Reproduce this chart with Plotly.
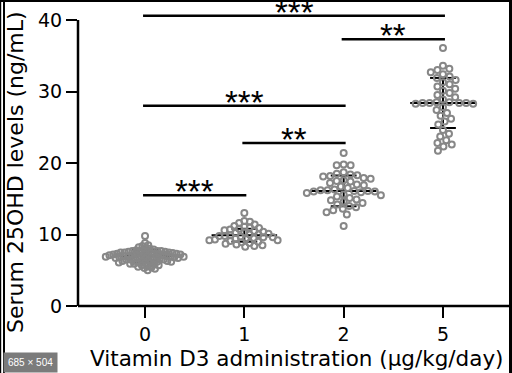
import numpy as np
import plotly.graph_objects as go

# ---------------- data ----------------
categories = ["0", "1", "2", "5"]

dose0 = [9.8, 8.8, 8.5, 8.4, 8.2, 8.1, 8.0, 7.9, 7.8, 7.8, 7.7, 7.7, 7.7, 7.6, 7.6, 7.6,
         7.5, 7.5, 7.5, 7.4, 7.4, 7.4, 7.3, 7.3, 7.3, 7.3, 7.2, 7.2, 7.2, 7.2, 7.1, 7.1, 7.1,
         7.0, 7.0, 7.0, 7.0, 6.9, 6.9, 6.9, 6.9, 6.8, 6.8, 6.8, 6.8, 6.7, 6.7, 6.7, 6.6, 6.6,
         6.6, 6.5, 6.5, 6.5, 6.4, 6.4, 6.3, 6.3, 6.3, 6.2, 6.2, 6.1, 6.1, 6.0, 6.0, 5.9,
         5.9, 5.8, 5.7, 5.7, 5.6, 5.5, 5.4, 5.3, 5.2, 5.0]
dose1 = [13.0, 11.9, 11.8, 11.6, 11.4, 11.2, 11.1, 11.0, 10.9, 10.8, 10.7, 10.6,
         10.5, 10.4, 10.3, 10.2, 10.1, 10.0, 10.0, 9.9, 9.8, 9.8, 9.7, 9.6, 9.6,
         9.5, 9.4, 9.4, 9.3, 9.2, 9.2, 9.1, 9.0, 8.9, 8.8, 8.7, 8.6, 8.5, 8.4, 8.3]
dose2 = [21.4, 19.8, 19.7, 19.7, 18.7, 18.5, 18.4, 18.3, 18.2, 18.1, 17.9, 17.8, 17.6,
         17.5, 17.4, 17.2, 17.0, 16.9, 16.7, 16.5, 16.3, 16.2, 16.2, 16.1, 16.1, 16.0,
         16.0, 15.9, 15.8, 15.6, 15.5, 15.3, 15.1, 14.9, 14.8, 14.6, 14.4, 14.2, 14.0,
         13.8, 13.6, 13.4, 13.1, 12.8, 11.2]
dose5 = [36.1, 33.6, 33.2, 33.0, 32.7, 32.4, 32.1, 31.9, 31.6, 31.3, 31.0, 30.7,
         30.4, 30.1, 29.8, 29.5, 29.2, 28.9, 28.5, 28.5, 28.4, 28.4, 28.4, 28.4,
         28.3, 28.3, 27.8, 27.4, 27.0, 26.6, 26.2, 25.8, 25.4, 24.6, 24.1, 23.7,
         23.2, 22.8, 22.6, 22.3, 21.7]
groups = [dose0, dose1, dose2, dose5]

group_means = [7.0, 9.9, 16.1, 28.4]
group_sds = [0.9, 0.9, 2.15, 3.5]

bracket_from = [0, 1, 0, 2, 0]
bracket_to = [1, 2, 2, 3, 3]
bracket_y = [15.5, 22.8, 28.0, 37.3, 40.6]
bracket_label = ["***", "**", "***", "**", "***"]

y_ticks = [0, 10, 20, 30, 40]
y_title = "Serum 25OHD levels (ng/mL)"
x_title = "Vitamin D3 administration (μg/kg/day)"

# ---------------- layout geometry ----------------
W, H = 512, 373
ML, MR, MT, MB = 78, 2, 0, 67
PW, PH = W - ML - MR, H - MT - MB
XR = [-0.675, 3.675]
YR = [0, 42.8]
SX = PW / (XR[1] - XR[0])
SY = PH / (YR[1] - YR[0])
GRAY = "#878787"
FONT = "Liberation Sans, Arial, sans-serif"
WFONT = "DejaVu Sans, Verdana, sans-serif"
swarm_gap = [3.9, 5.6, 7.0, 7.0]


def swarm(vals, d):
    """beeswarm offsets (data units) for points of diameter d pixels"""
    ys = np.asarray(vals, float) * SY
    order = np.argsort(-ys, kind="stable")
    placed = []
    out = np.zeros(len(vals))
    flip = 1
    for i in order:
        y = ys[i]
        cands = [0.0]
        for (xj, yj) in placed:
            dy = abs(y - yj)
            if dy < d:
                dx = np.sqrt(d * d - dy * dy)
                cands += [xj + dx, xj - dx]
        cands.sort(key=lambda c: (round(abs(c), 6), -flip * c))
        c = 0.0
        for c in cands:
            ok = True
            for (xj, yj) in placed:
                if (c - xj) ** 2 + (y - yj) ** 2 < d * d - 1e-6:
                    ok = False
                    break
            if ok:
                break
        placed.append((c, y))
        out[i] = c / SX
        flip = -flip
    return out


fig = go.Figure()

# mean +/- SD bars (below the points)
ex, ey = [], []
for i, (m, s) in enumerate(zip(group_means, group_sds)):
    ex += [i - 0.33, i + 0.33, None, i, i, None, i - 0.13, i + 0.13, None, i - 0.13, i + 0.13, None]
    ey += [m, m, None, m - s, m + s, None, m + s, m + s, None, m - s, m - s, None]
fig.add_trace(go.Scatter(x=ex, y=ey, mode="lines", line=dict(color="black", width=2),
                         hoverinfo="skip", showlegend=False))

for i, vals in enumerate(groups):
    off = swarm(vals, swarm_gap[i])
    fig.add_trace(go.Scatter(
        x=i + off, y=vals, mode="markers", showlegend=False,
        marker=dict(symbol="circle-open", size=6, color=GRAY, line=dict(width=2, color=GRAY)),
    ))

shapes = []
annotations = []


def px2paper(px, py):
    return (px - ML) / PW, (H - MB - py) / PH


# axis lines
shapes.append(dict(type="line", xref="paper", yref="paper", x0=0, x1=1, y0=0, y1=0,
                   line=dict(color="black", width=2.5)))
shapes.append(dict(type="line", xref="paper", yref="paper", x0=0, x1=0, y0=0,
                   y1=y_ticks[-1] / YR[1], line=dict(color="black", width=2.5)))

# significance brackets
for a, b, y, lab in zip(bracket_from, bracket_to, bracket_y, bracket_label):
    shapes.append(dict(type="line", xref="x", yref="y", x0=a - 0.02, x1=b + 0.02, y0=y, y1=y,
                       line=dict(color="black", width=2.5)))
    annotations.append(dict(x=(a + b) / 2, y=y, xref="x", yref="y", text=lab, showarrow=False,
                            yanchor="bottom", yshift=-17,
                            font=dict(family=FONT, size=33, color="black")))

# titles
tx, ty = px2paper(15, 172)
annotations.append(dict(x=tx, y=ty, xref="paper", yref="paper", text=y_title, textangle=-90,
                        showarrow=False, xanchor="center", yanchor="middle",
                        font=dict(family=WFONT, size=22, color="black")))
tx, ty = px2paper(297, 358)
annotations.append(dict(x=tx, y=ty, xref="paper", yref="paper", text=x_title,
                        showarrow=False, xanchor="center", yanchor="middle",
                        font=dict(family=WFONT, size=21.5, color="black")))

# frame of the screenshot
for (x0, x1, y0, y1) in [(0, 512, 0, 2), (0, 1.2, 0, 373), (3, 5, 0, 373), (509, 512, 0, 373)]:
    a0, b0 = px2paper(x0, y0)
    a1, b1 = px2paper(x1, y1)
    shapes.append(dict(type="rect", xref="paper", yref="paper", x0=a0, x1=a1, y0=b0, y1=b1,
                       fillcolor="black", line=dict(width=0)))
tx, ty = px2paper(3, 373)
annotations.append(dict(x=tx, y=ty, xref="paper", yref="paper", text="685 × 504",
                        xanchor="left", yanchor="bottom", showarrow=False,
                        bgcolor="#7b7b7b", borderpad=4,
                        font=dict(family=FONT, size=10, color="white")))

fig.update_layout(
    width=W, height=H, margin=dict(l=ML, r=MR, t=MT, b=MB),
    paper_bgcolor="white", plot_bgcolor="white",
    shapes=shapes, annotations=annotations,
    xaxis=dict(range=XR, tickvals=list(range(len(categories))), ticktext=categories,
               showline=False, showgrid=False, zeroline=False, ticks="outside",
               ticklen=11, tickwidth=2, tickcolor="black",
               tickfont=dict(family=WFONT, size=19, color="black")),
    yaxis=dict(range=YR, tickvals=y_ticks, showline=False, showgrid=False, zeroline=False,
               ticks="outside", ticklen=11, tickwidth=2, tickcolor="black",
               tickfont=dict(family=WFONT, size=19, color="black")),
)

fig.write_html("out.html", config={"displayModeBar": False},
               post_script="document.body.style.margin='0';document.body.style.padding='0';")
